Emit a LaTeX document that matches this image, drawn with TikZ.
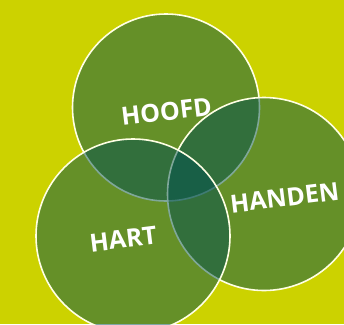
\documentclass[tikz,border=0pt]{standalone}
\usepackage{fontspec}
\setmainfont{Open Sans}
\usetikzlibrary{positioning}
\definecolor{bgyellow}{RGB}{204,210,0}
\definecolor{vgreen}{RGB}{0,80,80}
\definecolor{rimwhite}{RGB}{255,255,228}

\begin{document}
\begin{tikzpicture}[x=1pt, y=-1pt,
    ring/.style={circle, draw=rimwhite, line width=1.6pt, fill=vgreen, fill opacity=0.5, inner sep=0pt},
    word/.style={text=white, font=\bfseries\fontsize{25}{30}\selectfont, rotate=7, inner sep=0pt}]
             %
             \fill[bgyellow] (0,0) rectangle (344,324);
             \useasboundingbox (0,0) rectangle (344,324);
             %
             \node[ring, minimum size=187pt](hoofd) at (166,107.5){};
             \node[ring, minimum size=193pt](handen) at (264,194){};
             \node[ring, minimum size=194pt](hart) at (133,236){};
             %
             \node[word] (thoofd) at (hoofd.center) [shift={(0,4)}] {HOOFD};
             \node[word] (thanden) at (handen.center) [shift={(20,6)}] {HANDEN};
             \node[word] (thart) at (hart.center) [shift={(-10,2)}] {HART};
          \end{tikzpicture}
\end{document}
